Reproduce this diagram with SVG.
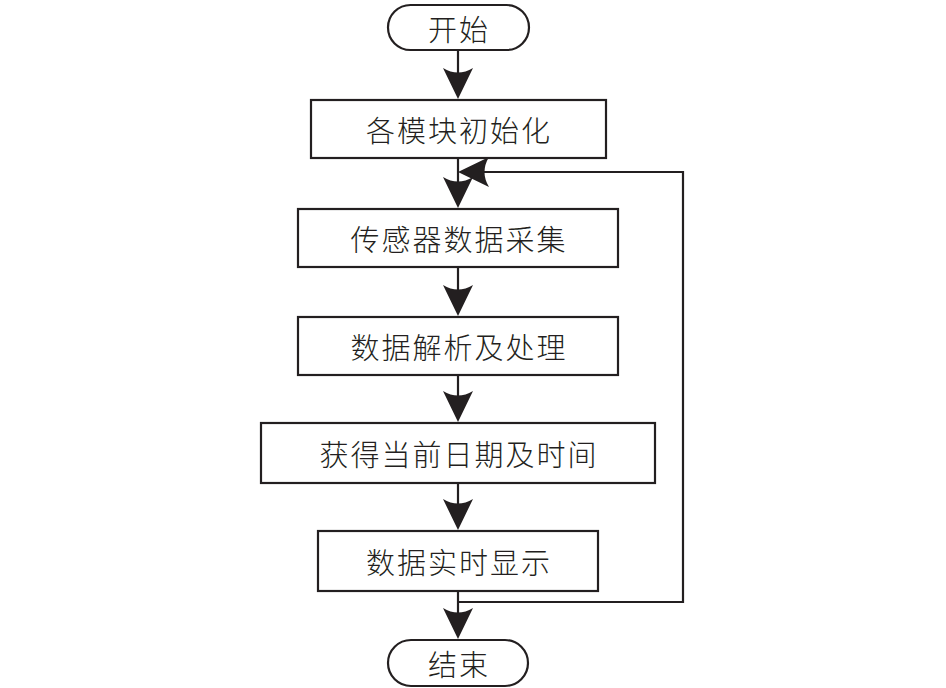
<svg xmlns="http://www.w3.org/2000/svg" width="946" height="688" viewBox="0 0 946 688">
<defs>
<style>
.box{fill:#fff;stroke:#231f20;stroke-width:2.2}
.t{font-family:"Noto Sans CJK SC","Noto Sans CJK JP",sans-serif;font-size:29px;fill:#231f20;text-anchor:middle;dominant-baseline:central;letter-spacing:2px;font-weight:300}
.ln{fill:none;stroke:#231f20;stroke-width:2.2}
.ah{fill:#231f20}
</style>
<path id="down" class="ah" d="M0,0 L-15,-31 Q0,-22 15,-31 Z"/>
</defs>
<rect width="946" height="688" fill="#fff"/>
<g id="start"><rect class="box" x="388" y="5" width="141" height="45" rx="22.5"/><text class="t" x="459" y="28">开始</text></g>
<g id="init"><rect class="box" x="311" y="100" width="295" height="58"/><text class="t" x="459" y="129">各模块初始化</text></g>
<g id="collect"><rect class="box" x="298" y="209" width="320" height="58"/><text class="t" x="459" y="238">传感器数据采集</text></g>
<g id="parse"><rect class="box" x="298" y="317" width="320" height="58"/><text class="t" x="459" y="346">数据解析及处理</text></g>
<g id="time"><rect class="box" x="261" y="423" width="394" height="60"/><text class="t" x="459" y="453">获得当前日期及时间</text></g>
<g id="display"><rect class="box" x="318" y="531" width="280" height="60"/><text class="t" x="459" y="561">数据实时显示</text></g>
<g id="end"><rect class="box" x="388" y="640" width="140" height="46" rx="23"/><text class="t" x="459" y="663">结束</text></g>
<g id="connectors">
<line class="ln" x1="458" y1="50" x2="458" y2="80"/>
<use href="#down" x="458" y="99"/>
<line class="ln" x1="458" y1="158" x2="458" y2="190"/>
<use href="#down" x="458" y="208"/>
<line class="ln" x1="458" y1="267" x2="458" y2="298"/>
<use href="#down" x="458" y="316"/>
<line class="ln" x1="458" y1="375" x2="458" y2="405"/>
<use href="#down" x="458" y="422"/>
<line class="ln" x1="458" y1="483" x2="458" y2="512"/>
<use href="#down" x="458" y="530"/>
<line class="ln" x1="458" y1="591" x2="458" y2="620"/>
<use href="#down" x="458" y="639"/>
<polyline class="ln" points="458,602 683,602 683,172 480,172"/>
<path class="ah" d="M458,172 L489,157 Q480,172 489,187 Z"/>
</g>
</svg>
